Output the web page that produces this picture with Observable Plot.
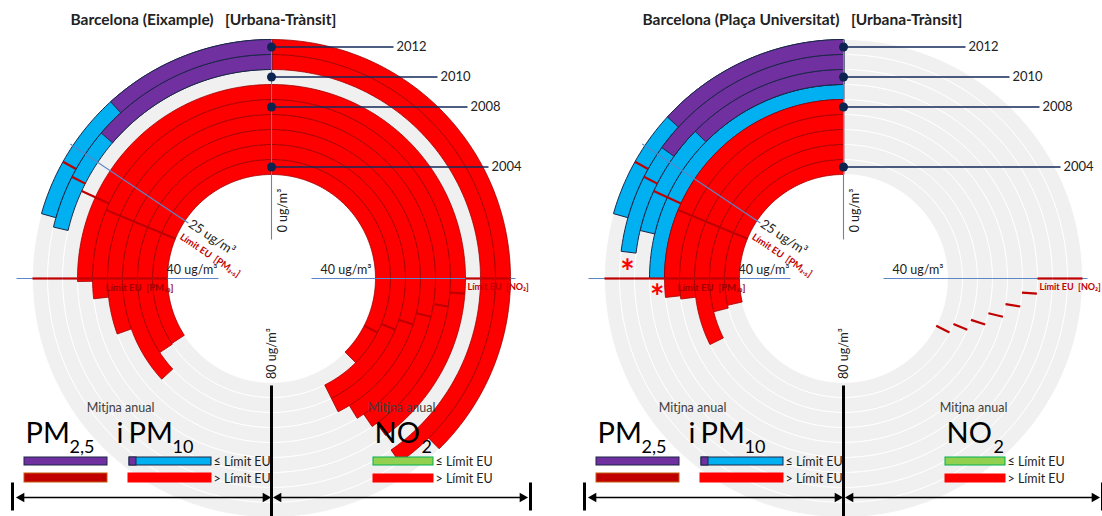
<!DOCTYPE html>
<html><head><meta charset="utf-8">
<script src="https://cdn.jsdelivr.net/npm/d3@7"></script>
<script src="https://cdn.jsdelivr.net/npm/@observablehq/plot@0.6"></script>
<style>body{margin:0;background:#fff}#chart{width:1102px;height:516px}</style>
</head><body><div id="chart"></div>
<script>
// ---------------- DATA ----------------
const years = [2004, 2005, 2006, 2007, 2008, 2009, 2010, 2011, 2012];
const labelledYears = [2004, 2008, 2010, 2012];
const stationNames = ["Barcelona (Eixample)", "Barcelona (Plaça Universitat)"];
const stationType = "[Urbana-Trànsit]";
// annual means, ug/m3 (null = no data)
const pm10Eixample = [54.7, 54.9, 58.9, 48.8, 42.9, 40.4, null, 34.1, 33.0];
const pm25Eixample = [null, null, null, null, null, null, null, 22.0, 18.8];
const no2Eixample = [60.0, 68.2, 68.2, 66.0, 64.8, 64.0, null, 64.5, 60.2];
const pm10Universitat = [45.8, 46.4, 51.7, 43.2, 42.7, 40.0, 34.1, 36.9, 33.0];
const pm25Universitat = [null, null, null, null, null, null, 20.1, 24.1, 21.1];
const no2Universitat = [null, null, null, null, null, null, null, null, null];
const flagEixample = [false, false, false, false, false, false, false, false, false];
const flagUniversitat = [false, false, false, false, false, true, false, true, false];
// EU limit values (incl. margin of tolerance) per year
const limitPM10 = [40, 40, 40, 40, 40, 40, 40, 40, 40];
const limitPM25 = [30, 30, 30, 30, 30, 29, 29, 28, 27];
const limitNO2 = [52, 50, 48, 46, 44, 42, 40, 40, 40];
const unit = "ug/m³";

// ---------------- LAYOUT ----------------
const W = 1102, H = 516;
const CY = 278, R0 = 104, RW = 15;
const panelCX = [271, 843];
const leader = [217, 196, 166, 122]; // leader lengths of the year labels
const col = {red: "#ff0000", redEdge: "#9e0000", blue: "#00b0f0", purple: "#7030a0", dark: "#c00000",
  green: "#92d050", edge: "#1c2748", grey: "#f0f0f0", axis: "#5b87c8", navy: "#13295a", limit: "#c00000"};

const ring = d3.scaleBand().domain(years).range([R0, R0 + RW * years.length]);
const angle = d3.scaleLinear().domain([0, 80]).range([0, Math.PI]);

const panels = [
  {key: "E", cx: panelCX[0], name: stationNames[0], pm10: pm10Eixample, pm25: pm25Eixample, no2: no2Eixample, flag: flagEixample},
  {key: "U", cx: panelCX[1], name: stationNames[1], pm10: pm10Universitat, pm25: pm25Universitat, no2: no2Universitat, flag: flagUniversitat}
];

function polar(p, side, v, r) {
  const a = angle(v);
  return {x: p.cx + side * r * Math.sin(a), y: CY - r * Math.cos(a)};
}
function arcPoly(p, side, v0, v1, r0, r1, id) {
  const n = Math.max(2, Math.ceil(Math.abs(v1 - v0) * 2));
  const out = [];
  for (let i = 0; i <= n; i++) out.push({id, ...polar(p, side, v0 + (v1 - v0) * i / n, r1)});
  for (let i = n; i >= 0; i--) out.push({id, ...polar(p, side, v0 + (v1 - v0) * i / n, r0)});
  return out;
}
function seg(p, side, v, r0, r1) {
  const a = polar(p, side, v, r0), b = polar(p, side, v, r1);
  return {x1: a.x, y1: a.y, x2: b.x, y2: b.y};
}
function along(p, side, v, r, perp, rot) {
  const q = polar(p, side, v, r);
  const t = rot * Math.PI / 180;
  return {x: q.x - Math.sin(t) * perp, y: q.y + Math.cos(t) * perp};
}

const bg = [], red = [], blue = [], purple = [], dark = [], green = [];
const dashes = [], axisLines = [], blackLines = [], leaders = [], dots = [], texts = [];
const stars = [];
for (const p of panels) {
  years.forEach((yr, k) => {
    const r0 = ring(yr), r1 = r0 + ring.bandwidth();
    bg.push(...arcPoly(p, 1, 0, 160, r0, r1, p.key + "bg" + k));
    const v10 = p.pm10[k];
    if (v10 != null) (v10 > limitPM10[k] ? red : blue).push(...arcPoly(p, -1, 0, v10, r0, r1, p.key + "pm10" + k));
    const v25 = p.pm25[k];
    if (v25 != null) (v25 > limitPM25[k] ? dark : purple).push(...arcPoly(p, -1, 0, v25, r0, r1, p.key + "pm25" + k));
    const vn = p.no2[k];
    if (vn != null) (vn > limitNO2[k] ? red : green).push(...arcPoly(p, 1, 0, vn, r0, r1, p.key + "no2" + k));
    dashes.push(seg(p, -1, limitPM10[k], r0, r1));
    dashes.push(seg(p, -1, limitPM25[k], r0, r1));
    dashes.push(seg(p, 1, limitNO2[k], r0, r1));
    if (p.flag[k]) stars.push(polar(p, -1, v10 + 1.4, r0 + RW / 2));
  });
  axisLines.push(seg(p, 1, 0, 39, 239));
  axisLines.push(seg(p, -1, 25, 100, 242));
  axisLines.push(seg(p, -1, 40, 53, 255));
  axisLines.push(seg(p, 1, 40, 40, 244));
  blackLines.push(seg(p, 1, 80, 107, 240));
  labelledYears.forEach((yr, i) => {
    const q = polar(p, 1, 0, ring(yr) + RW / 2);
    leaders.push({x1: q.x, y1: q.y, x2: q.x + leader[i], y2: q.y});
    dots.push(q);
    texts.push({t: String(yr), x: q.x + leader[i] + 3, y: q.y, size: 13, anchor: "start", fill: "#222"});
  });
  // axis annotations
  texts.push({t: `0 ${unit}`, x: p.cx + 11, y: CY - 68, rotate: -90, size: 12.5, anchor: "middle", fill: "#222"});
  texts.push({t: `80 ${unit}`, x: p.cx, y: CY + 75, rotate: -90, size: 12.5, anchor: "middle", fill: "#222"});
  const a1 = along(p, -1, 25, 99, -1, 33.75);
  texts.push({t: `25 ${unit}`, ...a1, rotate: 33.75, size: 13, anchor: "start", fill: "#222"});
  const a2 = along(p, -1, 25, 99, 15, 33.75);
  texts.push({t: "Límit EU  [PM₂.₅]", ...a2, rotate: 33.75, size: 9.5, anchor: "start", fill: col.limit, weight: "bold"});
  texts.push({t: `40 ${unit}`, x: p.cx - 54, y: CY - 9, size: 12.5, anchor: "end", fill: "#222"});
  texts.push({t: `40 ${unit}`, x: p.cx + 49, y: CY - 9, size: 12.5, anchor: "start", fill: "#222"});
  texts.push({t: "Límit EU  [PM₁₀]", x: p.cx - 166, y: CY + 9, size: 9.5, anchor: "start", fill: "#a00000", weight: "bold"});
  texts.push({t: "Límit EU  [NO₂]", x: p.cx + 196, y: CY + 9, size: 9, anchor: "start", fill: col.limit, weight: "bold"});
  // title
  texts.push({t: `${p.name}   ${stationType}`, x: p.cx - 201, y: 20, size: 15.5, anchor: "start", fill: "#222", weight: "bold"});
}

// legends (positions relative to panel centre)
const legendRects = [], legendTexts = [], bigTexts = [], arrows = [], heads = [], bars = [];
for (const p of panels) {
  const c = p.cx;
  legendRects.push({x1: c - 247, x2: c - 164, y1: 457, y2: 465, fill: col.purple, stroke: col.edge});
  legendRects.push({x1: c - 247, x2: c - 164, y1: 473, y2: 482, fill: col.dark, stroke: "#c55a11"});
  legendRects.push({x1: c - 142, x2: c - 60, y1: 457, y2: 465, fill: col.blue, stroke: col.edge});
  legendRects.push({x1: c - 142, x2: c - 135, y1: 457, y2: 465, fill: col.purple, stroke: col.edge});
  legendRects.push({x1: c - 143, x2: c - 60, y1: 473, y2: 482, fill: col.red, stroke: col.red});
  legendRects.push({x1: c + 102, x2: c + 162, y1: 457, y2: 465, fill: col.green, stroke: "#00b050"});
  legendRects.push({x1: c + 102, x2: c + 162, y1: 474, y2: 482, fill: col.red, stroke: col.red});
  legendTexts.push({t: "≤ Límit EU", x: c - 58, y: 461});
  legendTexts.push({t: "> Límit EU", x: c - 58, y: 478});
  legendTexts.push({t: "≤ Límit EU", x: c + 164, y: 461});
  legendTexts.push({t: "> Límit EU", x: c + 164, y: 478});
  texts.push({t: "Mitjna anual", x: c - 151, y: 407, size: 12.5, anchor: "middle", fill: "#404040"});
  texts.push({t: "Mitjna anual", x: c + 130, y: 407, size: 12.5, anchor: "middle", fill: "#404040"});
  bigTexts.push({t: "PM", x: c - 246, y: 442, size: 29});
  bigTexts.push({t: "2,5", x: c - 202, y: 452, size: 18});
  bigTexts.push({t: "i", x: c - 155, y: 442, size: 29});
  bigTexts.push({t: "PM", x: c - 143, y: 442, size: 29});
  bigTexts.push({t: "10", x: c - 99, y: 452, size: 18});
  bigTexts.push({t: "NO", x: c + 103, y: 442, size: 29});
  bigTexts.push({t: "2", x: c + 150, y: 452, size: 18});
  arrows.push({x1: c - 248, x2: c - 8, y: 497});
  arrows.push({x1: c + 9, x2: c + 249, y: 497});
  heads.push({x: c - 250, y: 497, rot: -90}, {x: c - 6, y: 497, rot: 90});
  heads.push({x: c + 7, y: 497, rot: -90}, {x: c + 251, y: 497, rot: 90});
  bars.push({x: c - 259, y1: 482, y2: 510});
  bars.push({x: c + 259, y1: 482, y2: 510});
}

const poly = (data, fill, stroke, sw) => Plot.line(data, {x: "x", y: "y", z: "id", fill, stroke, strokeWidth: sw, curve: "linear-closed"});

const chart = Plot.plot({
  width: W, height: H, margin: 0,
  x: {domain: [0, W], range: [0, W], axis: null},
  y: {domain: [0, H], range: [0, H], axis: null},
  style: {fontFamily: "Lato, 'Open Sans', sans-serif", background: "white"},
  marks: [
    poly(bg, col.grey, "white", 1),
    poly(blue, col.blue, col.edge, 1),
    poly(red, col.red, col.redEdge, 0.8),
    poly(green, col.green, "#00b050", 0.8),
    poly(purple, col.purple, col.edge, 1),
    poly(dark, col.dark, col.edge, 1),
    Plot.link(axisLines, {x1: "x1", y1: "y1", x2: "x2", y2: "y2", stroke: col.axis, strokeWidth: 1.1}),
    Plot.link(dashes, {x1: "x1", y1: "y1", x2: "x2", y2: "y2", stroke: col.limit, strokeWidth: 2.2}),
    Plot.link(blackLines, {x1: "x1", y1: "y1", x2: "x2", y2: "y2", stroke: "black", strokeWidth: 3}),
    Plot.link(leaders, {x1: "x1", y1: "y1", x2: "x2", y2: "y2", stroke: col.navy, strokeWidth: 1.3}),
    Plot.dot(dots, {x: "x", y: "y", r: 4.5, fill: "#0d2350", stroke: "none"}),
    Plot.text(stars, {x: "x", y: "y", text: () => "*", fill: "#ff0000", fontSize: 34, fontWeight: "bold", dy: 9}),
    Plot.rect(legendRects, {x1: "x1", x2: "x2", y1: "y1", y2: "y2", fill: d => d.fill, stroke: d => d.stroke, strokeWidth: 1}),
    Plot.text(legendTexts, {x: "x", y: "y", text: "t", textAnchor: "start", fontSize: 12.5, fill: "#222"}),
    Plot.text(bigTexts, {x: "x", y: "y", text: "t", textAnchor: "start", lineAnchor: "bottom", fontSize: d => d.size, fill: "black"}),
    Plot.link(arrows, {x1: "x1", x2: "x2", y1: "y", y2: "y", stroke: "black", strokeWidth: 1.3}),
    Plot.dot(heads, {x: "x", y: "y", symbol: "triangle", rotate: "rot", r: 3.6, fill: "black", stroke: "none"}),
    Plot.link(bars, {x1: "x", x2: "x", y1: "y1", y2: "y2", stroke: "black", strokeWidth: 3}),
    ...texts.map(t => Plot.text([t], {x: "x", y: "y", text: "t", rotate: t.rotate || 0, textAnchor: t.anchor,
      fontSize: t.size, fill: t.fill, fontWeight: t.weight || "normal"}))
  ]
});
document.getElementById("chart").append(chart);
</script>
</body></html>
